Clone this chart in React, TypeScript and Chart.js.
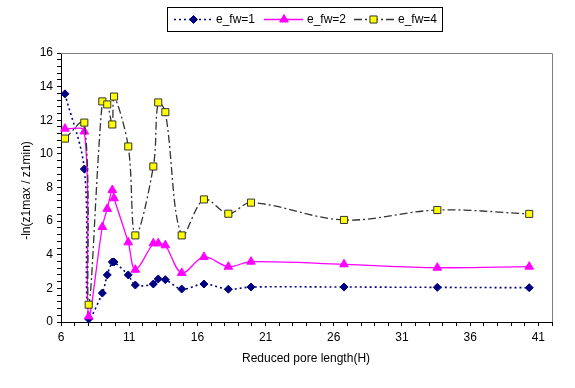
import React, { useEffect, useRef } from 'react';
import { Chart, registerables } from 'chart.js';

Chart.register(...registerables);

// ---- data ----
const poreLength = [6.29, 7.71, 8.03, 9.03, 9.39, 9.76, 9.89, 10.93, 11.45, 12.77, 13.13, 13.65, 14.85, 16.48, 18.27, 19.93, 26.75, 33.59, 40.33];
const efw1 = [13.57, 9.1, 0.18, 1.72, 2.8, 3.57, 3.57, 2.8, 2.2, 2.26, 2.56, 2.52, 1.96, 2.26, 1.95, 2.08, 2.08, 2.06, 2.04];
const efw2 = [11.5, 11.33, 0.33, 5.65, 6.73, 7.85, 7.36, 4.74, 3.11, 4.68, 4.68, 4.56, 2.92, 3.87, 3.29, 3.59, 3.43, 3.23, 3.29];
const efw4 = [10.91, 11.86, 1.03, 13.12, 12.94, 11.75, 13.41, 10.44, 5.15, 9.25, 13.06, 12.48, 5.15, 7.29, 6.44, 7.1, 6.07, 6.66, 6.43];
const seriesLabels = ['e_fw=1', 'e_fw=2', 'e_fw=4'];
const xTickLabels = [6, 11, 16, 21, 26, 31, 36, 41];
const yTickLabels = [0, 2, 4, 6, 8, 10, 12, 14, 16];
const xTitle = 'Reduced pore length(H)';
const yTitle = '-ln(z1max / z1min)';

const FONT = "'Liberation Sans', Arial, sans-serif";

const toPoints = (ys: number[]) => ys.map((y, i) => ({ x: poreLength[i], y }));

function drawMarker(ctx: CanvasRenderingContext2D, style: string, x: number, y: number, r: number) {
  ctx.beginPath();
  if (style === 'rectRot') {
    ctx.moveTo(x, y - r);
    ctx.lineTo(x + r, y);
    ctx.lineTo(x, y + r);
    ctx.lineTo(x - r, y);
    ctx.closePath();
  } else if (style === 'triangle') {
    ctx.moveTo(x, y - r);
    ctx.lineTo(x + 0.866 * r, y + 0.5 * r);
    ctx.lineTo(x - 0.866 * r, y + 0.5 * r);
    ctx.closePath();
  } else {
    const s = r * Math.SQRT1_2;
    ctx.rect(x - s, y - s, 2 * s, 2 * s);
  }
  ctx.fill();
  ctx.stroke();
}

const decorPlugin = {
  id: 'decor',
  afterDraw(chart: any) {
    const { ctx, chartArea: a } = chart;
    ctx.save();
    // plot area top and right border
    ctx.strokeStyle = '#808080';
    ctx.lineWidth = 1;
    ctx.setLineDash([]);
    ctx.beginPath();
    ctx.moveTo(a.left, a.top + 0.5);
    ctx.lineTo(a.right + 0.5, a.top + 0.5);
    ctx.lineTo(a.right + 0.5, a.bottom);
    ctx.stroke();

    // axis titles
    ctx.fillStyle = '#000';
    ctx.font = `12px ${FONT}`;
    ctx.textAlign = 'center';
    ctx.textBaseline = 'middle';
    ctx.fillText(xTitle, 306, 359);
    ctx.save();
    ctx.translate(27, (a.top + a.bottom) / 2 + 3);
    ctx.rotate(-Math.PI / 2);
    ctx.fillText(yTitle, 0, 0);
    ctx.restore();

    // legend
    ctx.strokeStyle = '#000';
    ctx.lineWidth = 1;
    ctx.strokeRect(167.5, 7.5, 275, 24);
    const items = [
      { x0: 174, x1: 213, mx: 193.5, tx: 216 },
      { x0: 264, x1: 303, mx: 284, tx: 307 },
      { x0: 354, x1: 394, mx: 373.5, tx: 398 },
    ];
    const ly = 19.5;
    chart.data.datasets.forEach((ds: any, i: number) => {
      const it = items[i];
      ctx.strokeStyle = ds.borderColor;
      ctx.lineWidth = ds.borderWidth;
      ctx.setLineDash(ds.borderDash || []);
      ctx.beginPath();
      ctx.moveTo(it.x0, ly);
      ctx.lineTo(it.x1, ly);
      ctx.stroke();
      ctx.setLineDash([]);
      ctx.fillStyle = ds.pointBackgroundColor;
      ctx.strokeStyle = ds.pointBorderColor;
      ctx.lineWidth = ds.pointBorderWidth;
      drawMarker(ctx, ds.pointStyle, it.mx, ly, ds.pointRadius);
      ctx.fillStyle = '#000';
      ctx.textAlign = 'left';
      ctx.textBaseline = 'middle';
      ctx.fillText(ds.label, it.tx, ly);
    });
    ctx.restore();
  },
};

export default function App() {
  const ref = useRef<HTMLCanvasElement>(null);
  useEffect(() => {
    const chart = new Chart(ref.current as HTMLCanvasElement, {
      type: 'line',
      data: {
        datasets: [
          {
            label: seriesLabels[0],
            data: toPoints(efw1),
            borderColor: '#000080',
            borderWidth: 1.6,
            borderDash: [2, 3],
            pointStyle: 'rectRot',
            pointRadius: 4,
            pointBackgroundColor: '#000080',
            pointBorderColor: '#000080',
            pointBorderWidth: 1,
            tension: 0.35,
            order: 3,
            clip: 6,
          },
          {
            label: seriesLabels[1],
            data: toPoints(efw2),
            borderColor: '#FF00FF',
            borderWidth: 1.3,
            pointStyle: 'triangle',
            pointRadius: 5,
            pointBackgroundColor: '#FF00FF',
            pointBorderColor: '#FF00FF',
            pointBorderWidth: 1,
            tension: 0.35,
            order: 2,
            clip: 6,
          },
          {
            label: seriesLabels[2],
            data: toPoints(efw4),
            borderColor: '#333333',
            borderWidth: 1.3,
            borderDash: [8, 3, 2, 3],
            pointStyle: 'rect',
            pointRadius: 5,
            pointBackgroundColor: '#FFFF00',
            pointBorderColor: '#333333',
            pointBorderWidth: 1,
            tension: 0.35,
            order: 1,
            clip: 6,
          },
        ] as any,
      },
      options: {
        responsive: false,
        animation: false,
        layout: { padding: { top: 53, right: 23, left: 0, bottom: 0 } },
        plugins: { legend: { display: false }, tooltip: { enabled: false } },
        scales: {
          x: {
            type: 'linear',
            min: 6,
            max: 42,
            afterFit: (s: any) => { s.height = 66; },
            grid: { drawOnChartArea: false, drawTicks: true, tickLength: 4, color: '#000' },
            border: { color: '#000', width: 1 },
            ticks: {
              stepSize: 1,
              autoSkip: false,
              maxRotation: 0,
              padding: 4,
              color: '#000',
              font: { family: FONT, size: 12 },
              callback: (v: any) => (xTickLabels.includes(Math.round(v)) && Math.abs(v - Math.round(v)) < 1e-6 ? String(Math.round(v)) : ''),
            },
          },
          y: {
            type: 'linear',
            min: 0,
            max: 16,
            afterFit: (s: any) => { s.width = 61; },
            grid: { drawOnChartArea: false, drawTicks: true, tickLength: 4, color: '#000' },
            border: { color: '#000', width: 1 },
            ticks: {
              stepSize: 0.4,
              autoSkip: false,
              padding: 4,
              color: '#000',
              font: { family: FONT, size: 12 },
              callback: (v: any) => {
                const r = Math.round(v);
                return Math.abs(v - r) < 1e-6 && yTickLabels.includes(r) ? String(r) : '';
              },
            },
          },
        },
      } as any,
      plugins: [decorPlugin],
    });
    return () => chart.destroy();
  }, []);
  return (
    <div style={{ position: 'fixed', left: 0, top: 0, width: 575, height: 388, background: '#fff' }}>
      <canvas ref={ref} width={575} height={388} style={{ display: 'block' }} />
    </div>
  );
}
